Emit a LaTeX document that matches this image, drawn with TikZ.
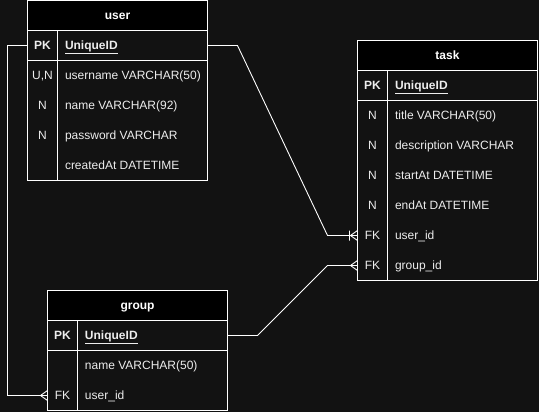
\documentclass[tikz,border=0pt]{standalone}
\usepackage{fontspec}
\setmainfont{Liberation Sans}
\definecolor{bg}{HTML}{121212}
\definecolor{txt}{HTML}{EDEDED}
\begin{document}
\begin{tikzpicture}[x=1pt,y=-1pt,
  hdr/.style={minimum width=180pt,minimum height=30pt,inner sep=0pt,outer sep=0pt,fill=black,draw=white,line width=1pt,text=white,text height=10.86pt,text depth=2.54pt,font=\fontsize{12}{14}\selectfont\bfseries},
  keyc/.style={minimum width=30pt,minimum height=30pt,inner sep=0pt,outer sep=0pt,text=txt,text height=10.86pt,text depth=2.54pt,font=\fontsize{12}{14}\selectfont},
  fieldc/.style={minimum height=30pt,text width=150pt,inner xsep=0pt,inner ysep=0pt,outer sep=0pt,align=flush left,text=txt,text height=10.86pt,text depth=2.54pt,font=\fontsize{12}{14}\selectfont,execute at begin node={\hspace*{7.5pt}}},
  frame/.style={draw=white,line width=1pt},
  conn/.style={draw=white,line width=0.9pt}]
\fill[bg] (0,0) rectangle (539,412);
\useasboundingbox (0,0) rectangle (539,412);

% ---------- user ----------
\node[hdr] (user) at (117.5,15.5) {user};
\node[keyc] (user-pk-k) at (42.5,45.5) {\textbf{PK}};
\node[fieldc] (user-pk-f) at (132.5,45.5) {\textbf{\underline{UniqueID}}};
\node[keyc] (user-1-k) at (42.5,75.5) {U,N};
\node[fieldc] (user-1-f) at (132.5,75.5) {username VARCHAR(50)};
\node[keyc] (user-2-k) at (42.5,105.5) {N};
\node[fieldc] (user-2-f) at (132.5,105.5) {name VARCHAR(92)};
\node[keyc] (user-3-k) at (42.5,135.5) {N};
\node[fieldc] (user-3-f) at (132.5,135.5) {password VARCHAR};
\node[keyc] (user-4-k) at (42.5,165.5) {};
\node[fieldc] (user-4-f) at (132.5,165.5) {createdAt DATETIME};
\draw[frame] (user.south west) rectangle (user-4-f.south east);
\draw[frame] (user-pk-k.south west) -- (user-pk-f.south east);
\draw[frame] (user-pk-k.north east) -- (user-4-k.south east);

% ---------- task ----------
\node[hdr] (task) at (447.5,55.5) {task};
\node[keyc] (task-pk-k) at (372.5,85.5) {\textbf{PK}};
\node[fieldc] (task-pk-f) at (462.5,85.5) {\textbf{\underline{UniqueID}}};
\node[keyc] (task-1-k) at (372.5,115.5) {N};
\node[fieldc] (task-1-f) at (462.5,115.5) {title VARCHAR(50)};
\node[keyc] (task-2-k) at (372.5,145.5) {N};
\node[fieldc] (task-2-f) at (462.5,145.5) {description VARCHAR};
\node[keyc] (task-3-k) at (372.5,175.5) {N};
\node[fieldc] (task-3-f) at (462.5,175.5) {startAt DATETIME};
\node[keyc] (task-4-k) at (372.5,205.5) {N};
\node[fieldc] (task-4-f) at (462.5,205.5) {endAt DATETIME};
\node[keyc] (task-5-k) at (372.5,235.5) {FK};
\node[fieldc] (task-5-f) at (462.5,235.5) {user\_id};
\node[keyc] (task-6-k) at (372.5,265.5) {FK};
\node[fieldc] (task-6-f) at (462.5,265.5) {group\_id};
\draw[frame] (task.south west) rectangle (task-6-f.south east);
\draw[frame] (task-pk-k.south west) -- (task-pk-f.south east);
\draw[frame] (task-pk-k.north east) -- (task-6-k.south east);

% ---------- group ----------
\node[hdr] (group) at (137.5,305.5) {group};
\node[keyc] (group-pk-k) at (62.5,335.5) {\textbf{PK}};
\node[fieldc] (group-pk-f) at (152.5,335.5) {\textbf{\underline{UniqueID}}};
\node[keyc] (group-1-k) at (62.5,365.5) {};
\node[fieldc] (group-1-f) at (152.5,365.5) {name VARCHAR(50)};
\node[keyc] (group-2-k) at (62.5,395.5) {FK};
\node[fieldc] (group-2-f) at (152.5,395.5) {user\_id};
\draw[frame] (group.south west) rectangle (group-2-f.south east);
\draw[frame] (group-pk-k.south west) -- (group-pk-f.south east);
\draw[frame] (group-pk-k.north east) -- (group-2-k.south east);

% ---------- connectors ----------
% user -> task.user_id (one or many)
\draw[conn] (user-pk-f.east) -- ++(30,0) -- ([xshift=-30pt]task-5-k.west) -- (task-5-k.west);
\draw[conn] ([xshift=-7pt]task-5-k.west) -- ([yshift=5pt]task-5-k.west)
            ([xshift=-7pt]task-5-k.west) -- ([yshift=-5pt]task-5-k.west)
            ([xshift=-8pt,yshift=5pt]task-5-k.west) -- ([xshift=-8pt,yshift=-5pt]task-5-k.west);
% group -> task.group_id (many)
\draw[conn] (group-pk-f.east) -- ++(30,0) -- ([xshift=-30pt]task-6-k.west) -- (task-6-k.west);
\draw[conn] ([xshift=-7pt]task-6-k.west) -- ([yshift=5pt]task-6-k.west)
            ([xshift=-7pt]task-6-k.west) -- ([yshift=-5pt]task-6-k.west);
% user -> group.user_id (many)
\draw[conn] (user-pk-k.west) -- ++(-20,0) |- (group-2-k.west);
\draw[conn] ([xshift=-7pt]group-2-k.west) -- ([yshift=5pt]group-2-k.west)
            ([xshift=-7pt]group-2-k.west) -- ([yshift=-5pt]group-2-k.west);
\end{tikzpicture}
\end{document}
